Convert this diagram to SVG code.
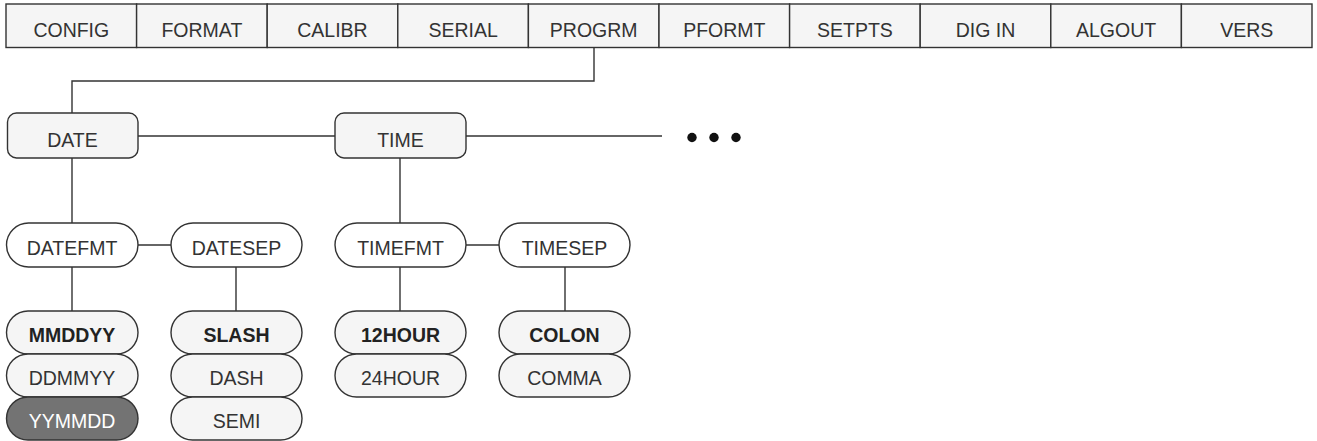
<svg xmlns="http://www.w3.org/2000/svg" width="1317" height="441" viewBox="0 0 1317 441">
<style>
.cell{fill:#f5f5f5;stroke:#333;stroke-width:1.4}
.box{fill:#f5f5f5;stroke:#333;stroke-width:1.4}
.pill{fill:#fff;stroke:#333;stroke-width:1.4}
.opt{fill:#f5f5f5;stroke:#333;stroke-width:1.4}
.sel{fill:#737373;stroke:#333;stroke-width:1.4}
.t{font-family:"Liberation Sans",Arial,sans-serif;font-size:19.5px;fill:#333;text-anchor:middle}
.b{font-weight:bold;fill:#222}
.w{fill:#fff}
.ln{stroke:#333;stroke-width:1.4;fill:none}
</style>
<rect x="0" y="0" width="1317" height="441" fill="#fff"/>
<g id="menu">
<g id="m-config"><rect class="cell" x="6" y="4" width="130.6" height="43.5"/><text class="t" x="71.3" y="37">CONFIG</text></g>
<g id="m-format"><rect class="cell" x="136.6" y="4" width="130.6" height="43.5"/><text class="t" x="201.9" y="37">FORMAT</text></g>
<g id="m-calibr"><rect class="cell" x="267.2" y="4" width="130.6" height="43.5"/><text class="t" x="332.5" y="37">CALIBR</text></g>
<g id="m-serial"><rect class="cell" x="397.8" y="4" width="130.6" height="43.5"/><text class="t" x="463.1" y="37">SERIAL</text></g>
<g id="m-progrm"><rect class="cell" x="528.4" y="4" width="130.6" height="43.5"/><text class="t" x="593.7" y="37">PROGRM</text></g>
<g id="m-pformt"><rect class="cell" x="659" y="4" width="130.6" height="43.5"/><text class="t" x="724.3" y="37">PFORMT</text></g>
<g id="m-setpts"><rect class="cell" x="789.6" y="4" width="130.6" height="43.5"/><text class="t" x="854.9" y="37">SETPTS</text></g>
<g id="m-digin"><rect class="cell" x="920.2" y="4" width="130.6" height="43.5"/><text class="t" x="985.5" y="37">DIG IN</text></g>
<g id="m-algout"><rect class="cell" x="1050.8" y="4" width="130.6" height="43.5"/><text class="t" x="1116.1" y="37">ALGOUT</text></g>
<g id="m-vers"><rect class="cell" x="1181.4" y="4" width="130.6" height="43.5"/><text class="t" x="1246.7" y="37">VERS</text></g>
</g>
<g id="connectors">
<path class="ln" d="M594 47.5 V81 H72 V113"/>
<path class="ln" d="M138 136 H335"/>
<path class="ln" d="M466 136 H662"/>
<path class="ln" d="M72 158 V223"/>
<path class="ln" d="M400 158 V223"/>
<path class="ln" d="M138 245 H171"/>
<path class="ln" d="M466 245 H499"/>
<path class="ln" d="M72 267 V311"/>
<path class="ln" d="M236 267 V311"/>
<path class="ln" d="M400 267 V311"/>
<path class="ln" d="M565 267 V311"/>
</g>
<g id="more" fill="#111"><circle cx="692" cy="137.5" r="4.7"/><circle cx="714" cy="137.5" r="4.7"/><circle cx="736" cy="137.5" r="4.7"/></g>
<g id="date"><rect class="box" x="7.5" y="113" width="130.5" height="45" rx="9"/><text class="t" x="72.5" y="147">DATE</text></g>
<g id="time"><rect class="box" x="335" y="113" width="131" height="45" rx="9"/><text class="t" x="400.5" y="147">TIME</text></g>
<g id="datefmt"><rect class="pill" x="6.5" y="223" width="131.5" height="44" rx="22"/><text class="t" x="72" y="255">DATEFMT</text></g>
<g id="datesep"><rect class="pill" x="171" y="223" width="131" height="44" rx="22"/><text class="t" x="236.5" y="255">DATESEP</text></g>
<g id="timefmt"><rect class="pill" x="335" y="223" width="131" height="44" rx="22"/><text class="t" x="400.5" y="255">TIMEFMT</text></g>
<g id="timesep"><rect class="pill" x="499" y="223" width="131" height="44" rx="22"/><text class="t" x="564.5" y="255">TIMESEP</text></g>
<g id="mmddyy"><rect class="opt" x="6.5" y="311" width="131.5" height="43" rx="21.5"/><text class="t b" x="72" y="342">MMDDYY</text></g>
<g id="ddmmyy"><rect class="opt" x="6.5" y="354" width="131.5" height="43" rx="21.5"/><text class="t" x="72" y="385">DDMMYY</text></g>
<g id="yymmdd"><rect class="sel" x="6.5" y="397" width="131.5" height="43" rx="21.5"/><text class="t w" x="72" y="428">YYMMDD</text></g>
<g id="slash"><rect class="opt" x="171" y="311" width="131" height="43" rx="21.5"/><text class="t b" x="236.5" y="342">SLASH</text></g>
<g id="dash"><rect class="opt" x="171" y="354" width="131" height="43" rx="21.5"/><text class="t" x="236.5" y="385">DASH</text></g>
<g id="semi"><rect class="opt" x="171" y="397" width="131" height="43" rx="21.5"/><text class="t" x="236.5" y="428">SEMI</text></g>
<g id="h12"><rect class="opt" x="335" y="311" width="131" height="43" rx="21.5"/><text class="t b" x="400.5" y="342">12HOUR</text></g>
<g id="h24"><rect class="opt" x="335" y="354" width="131" height="43" rx="21.5"/><text class="t" x="400.5" y="385">24HOUR</text></g>
<g id="colon"><rect class="opt" x="499" y="311" width="131" height="43" rx="21.5"/><text class="t b" x="564.5" y="342">COLON</text></g>
<g id="comma"><rect class="opt" x="499" y="354" width="131" height="43" rx="21.5"/><text class="t" x="564.5" y="385">COMMA</text></g>
</svg>
